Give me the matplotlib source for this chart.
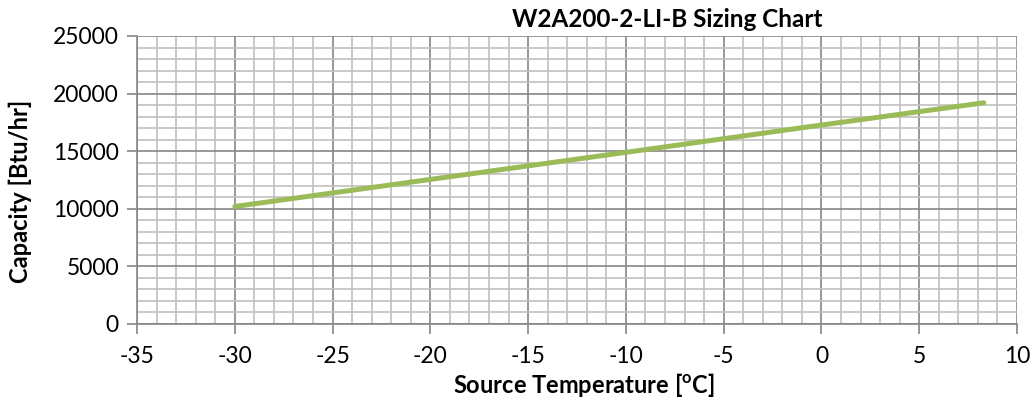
import matplotlib.pyplot as plt
from matplotlib.ticker import MultipleLocator

# Veriler
source_temp = [-30, -20, -10, 0, 8.3]
capacity = [10200, 12550, 14900, 17270, 19200]

x_ticks = [-35, -30, -25, -20, -15, -10, -5, 0, 5, 10]
y_ticks = [0, 5000, 10000, 15000, 20000, 25000]

plt.rcParams['font.family'] = ['Lato', 'DejaVu Sans']
plt.rcParams['axes.unicode_minus'] = False

fig = plt.figure(figsize=(10.32, 4.08), dpi=100)
ax = fig.add_axes([0.1328, 0.2059, 0.8527, 0.7059])

# çizgi
ax.plot(source_temp, capacity, color='#9BBB59', linewidth=3.6, solid_capstyle='round', zorder=3)

ax.set_xlim(-35, 10)
ax.set_ylim(0, 25000)
ax.set_xticks(x_ticks)
ax.set_yticks(y_ticks)
ax.xaxis.set_minor_locator(MultipleLocator(1))
ax.yaxis.set_minor_locator(MultipleLocator(1000))

# ızgara
ax.grid(which='major', color='#868686', linewidth=1.2)
ax.grid(which='minor', color='#C0C0C0', linewidth=1.2)
ax.set_axisbelow(True)

for s in ['top', 'right']:
    ax.spines[s].set_visible(False)
for s in ['left', 'bottom']:
    ax.spines[s].set_color('#868686')
    ax.spines[s].set_linewidth(1.2)

ax.tick_params(which='major', length=7, width=1.2, color='#868686', labelsize=16.5, pad=6)
ax.tick_params(axis='x', which='major', pad=9)
ax.tick_params(which='minor', length=0)

# başlık ve eksen yazıları
fig.text(0.647, 0.952, 'W2A200-2-LI-B Sizing Chart', fontsize=17.5, fontweight='bold',
         ha='center', va='center')
fig.text(0.566, 0.056, 'Source Temperature [$\\mathregular{^{o}}$C]', fontsize=17,
         fontweight='bold', ha='center', va='center')
fig.text(0.02, 0.53, 'Capacity [Btu/hr]', fontsize=17, fontweight='bold',
         ha='center', va='center', rotation=90)

fig.savefig('out.png', dpi=100)
